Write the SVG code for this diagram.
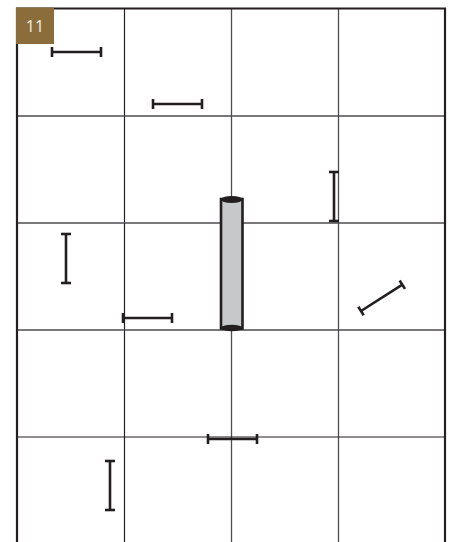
<svg xmlns="http://www.w3.org/2000/svg" width="454" height="542" viewBox="0 0 454 542">
<style>
.grid-dark{stroke:#231f20;stroke-width:1.2;fill:none}
.grid-grey{stroke:#4d4d4f;stroke-width:1.3;fill:none}
.border{stroke:#231f20;stroke-width:2.2;fill:none}
.beam{stroke:#231f20;stroke-width:2.6;fill:none;stroke-linecap:butt}
.badge-text{font-family:"Open Sans","Liberation Sans",sans-serif;font-size:16px;fill:#f4efe4}
</style>
<defs>
<g id="hbeam">
<line class="beam" x1="0" y1="0" x2="49" y2="0"/>
<line class="beam" x1="0" y1="-5" x2="0" y2="5"/>
<line class="beam" x1="49" y1="-5" x2="49" y2="5"/>
</g>
</defs>
<rect width="454" height="542" fill="#ffffff"/>
<g id="grid">
<line class="grid-dark" x1="124.5" y1="9" x2="124.5" y2="542"/>
<line class="grid-grey" x1="231.5" y1="9" x2="231.5" y2="542"/>
<line class="grid-grey" x1="338.5" y1="9" x2="338.5" y2="542"/>
<line class="grid-grey" x1="17" y1="116" x2="445" y2="116"/>
<line class="grid-grey" x1="17" y1="223" x2="445" y2="223"/>
<line class="grid-grey" x1="17" y1="330" x2="445" y2="330"/>
<line class="grid-dark" x1="17" y1="437" x2="445" y2="437"/>
<path class="border" d="M17 542 V8.5 H445 V542"/>
</g>
<g id="badge">
<rect x="16" y="7.5" width="38" height="36.5" fill="#8a6d3b"/>
<text class="badge-text" x="35" y="32" text-anchor="middle">11</text>
</g>
<g id="beam1"><use href="#hbeam" transform="translate(52,52)"/></g>
<g id="beam2"><use href="#hbeam" transform="translate(153,104)"/></g>
<g id="beam3"><use href="#hbeam" transform="translate(334,172) rotate(90)"/></g>
<g id="beam4"><use href="#hbeam" transform="translate(361,311) rotate(-32.5)"/></g>
<g id="beam5"><use href="#hbeam" transform="translate(66,234) rotate(90)"/></g>
<g id="beam6"><use href="#hbeam" transform="translate(123,318)"/></g>
<g id="beam7"><use href="#hbeam" transform="translate(208,439)"/></g>
<g id="beam8"><use href="#hbeam" transform="translate(110,461) rotate(90)"/></g>
<g id="column">
<rect x="221" y="199" width="21.5" height="129.5" fill="#c7c8ca" stroke="#231f20" stroke-width="2.6"/>
<ellipse cx="231.75" cy="199.5" rx="11" ry="3.5" fill="#231f20"/>
<ellipse cx="231.75" cy="328" rx="11" ry="3.2" fill="#231f20"/>
</g>
</svg>
